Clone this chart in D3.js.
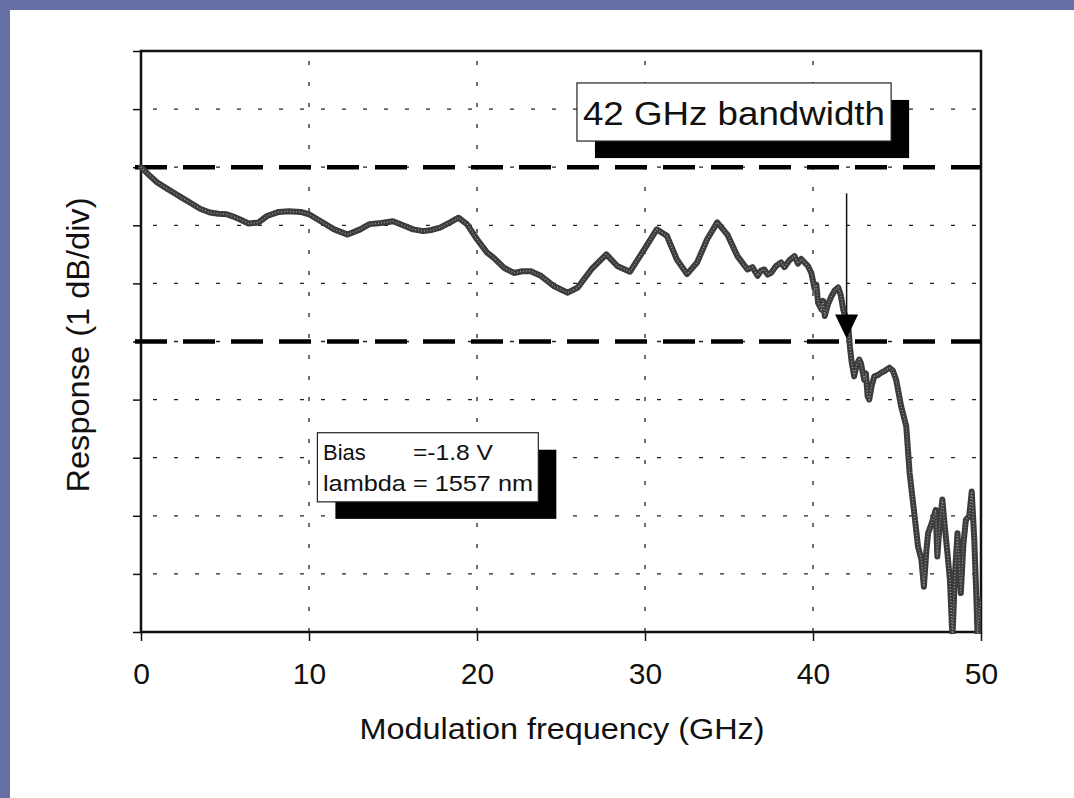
<!DOCTYPE html>
<html lang="en">
<head>
    <meta charset="utf-8">
    <title>Modulation response</title>
    <script type="text/javascript" src="https://d3js.org/d3.v7.min.js"></script>
    <style type="text/css">
        body { margin: 0; overflow: hidden; background: #fff; }
        svg { display: block; }
        text { font-family: "Liberation Sans", Arial, Helvetica, sans-serif; fill: #111; }
    </style>
</head>
<body>
    <script type="text/javascript">
        var freqGHz = [0.0, 0.5, 0.95, 1.5, 1.95, 2.4, 2.75, 3.2, 3.55, 4.1, 4.6, 5.1, 5.5, 5.9, 6.4, 7.0, 7.5, 8.2, 8.8, 9.5,
            10.0, 10.7, 11.5, 12.3, 13.05, 13.6, 14.3, 15.0, 15.6, 16.2, 16.8, 17.3, 17.8, 18.4, 18.9, 19.4,
            20.0, 20.6, 21.0, 21.6, 22.2, 22.7, 23.2, 23.8, 24.6, 25.4, 26.0, 26.8, 27.7, 28.35, 29.1, 29.9,
            30.7, 31.3, 31.9, 32.5, 33.1, 33.7, 34.3, 34.9, 35.5, 36.1, 36.4, 36.7, 36.9, 37.1, 37.3, 37.5,
            37.8, 38.1, 38.3, 38.6, 38.9, 39.1, 39.3, 39.5, 39.7, 39.9, 40.1, 40.2, 40.3, 40.5, 40.6, 40.7, 40.9, 41.1,
            41.3, 41.5, 41.65, 41.8, 42.1, 42.2, 42.3, 42.45, 42.6, 42.75, 42.85, 43.05, 43.15, 43.25, 43.35, 43.5, 43.65,
            43.85, 44.05, 44.3, 44.55, 44.75, 44.95, 45.25, 45.55, 45.75, 46.05, 46.25, 46.45, 46.6, 46.75,
            46.85, 47.1, 47.3, 47.4, 47.55, 47.7, 47.85, 48.0, 48.15, 48.3, 48.45, 48.6, 48.8, 48.95, 49.1,
            49.3, 49.45, 49.6, 49.7, 49.8, 49.9, 50.0];
        var responseDb = [0.00, -0.14, -0.26, -0.36, -0.44, -0.52, -0.58, -0.66, -0.72, -0.78, -0.80, -0.81, -0.85, -0.90, -0.97, -0.95, -0.84, -0.77, -0.76, -0.77,
            -0.81, -0.93, -1.07, -1.16, -1.07, -0.98, -0.96, -0.93, -1.00, -1.07, -1.10, -1.08, -1.04, -0.95, -0.87, -0.98,
            -1.24, -1.47, -1.56, -1.73, -1.82, -1.79, -1.79, -1.87, -2.05, -2.16, -2.07, -1.76, -1.50, -1.70, -1.80, -1.44,
            -1.07, -1.18, -1.59, -1.84, -1.64, -1.24, -0.95, -1.16, -1.53, -1.76, -1.72, -1.87, -1.78, -1.76, -1.85, -1.82,
            -1.70, -1.64, -1.72, -1.60, -1.53, -1.66, -1.58, -1.64, -1.70, -1.82, -2.10, -2.02, -2.33, -2.45, -2.30, -2.56, -2.35, -2.22,
            -2.12, -2.07, -2.20, -2.45, -2.74, -3.10, -3.35, -3.60, -3.40, -3.31, -3.37, -3.66, -3.55, -3.94, -4.00, -3.75, -3.60,
            -3.58, -3.54, -3.50, -3.45, -3.50, -3.66, -4.12, -4.46, -5.26, -6.01, -6.53, -6.75, -7.22, -6.60,
            -6.30, -6.10, -5.90, -6.70, -6.10, -5.72, -6.20, -6.64, -7.10, -8.10, -7.00, -6.30, -7.33, -6.50, -6.07,
            -6.00, -5.58, -6.41, -7.20, -8.10, -7.60, -7.45];

        // Axis ticks (y ticks carry no labels: 1 dB per division)
        var xTicks = [0, 10, 20, 30, 40, 50];
        var yTicks = [-8, -7, -6, -5, -4, -3, -2, -1, 0, 1, 2];
        var refLevels = [0, -3];          // 0 dB and -3 dB dashed lines
        var bandwidthGHz = 42;

        var width = 1074, height = 798;
        var svg = d3.select("body").append("svg")
            .attr("width", width)
            .attr("height", height);

        // Slide frame (blue band at top and left)
        svg.append("rect").attr("width", width).attr("height", height).attr("fill", "#6670a6");
        svg.append("rect").attr("x", 10).attr("y", 10).attr("width", width - 10).attr("height", height - 10).attr("fill", "#fff");

        var x = d3.scaleLinear().domain([0, 50]).range([141, 981]);
        var y = d3.scaleLinear().domain([-8, 2]).range([632, 51]);

        // Dotted grid
        var grid = svg.append("g").attr("stroke", "#222").attr("stroke-width", 1.3).attr("stroke-dasharray", "4,17");
        grid.selectAll(".hg").data(yTicks.filter(function(d) { return d > -8 && d < 2; }))
            .enter().append("line")
            .attr("x1", x(0) + 12).attr("x2", x(50))
            .attr("y1", function(d) { return y(d); }).attr("y2", function(d) { return y(d); });
        grid.selectAll(".vg").data(xTicks.filter(function(d) { return d > 0 && d < 50; }))
            .enter().append("line")
            .attr("y1", y(2) + 10).attr("y2", y(-8))
            .attr("x1", function(d) { return x(d); }).attr("x2", function(d) { return x(d); });

        // Axes: ticks only on y, numbers on x
        var xAxis = svg.append("g").attr("transform", "translate(0," + y(-8) + ")")
            .call(d3.axisBottom(x).tickValues(xTicks).tickSize(9).tickPadding(22).tickFormat(d3.format("d")));
        var yAxis = svg.append("g").attr("transform", "translate(" + x(0) + ",0)")
            .call(d3.axisLeft(y).tickValues(yTicks).tickSize(8).tickFormat(""));
        [xAxis, yAxis].forEach(function(a) {
            a.select(".domain").remove();
            a.selectAll(".tick line").attr("stroke", "#111").attr("stroke-width", 1.5);
        });
        xAxis.selectAll(".tick text").attr("font-size", 30).attr("fill", "#111")
            .style("font-family", "'Liberation Sans', Arial, sans-serif");

        // Plot frame
        svg.append("rect")
            .attr("x", x(0)).attr("y", y(2))
            .attr("width", x(50) - x(0)).attr("height", y(-8) - y(2))
            .attr("fill", "none").attr("stroke", "#111").attr("stroke-width", 2.5);

        // Heavy dashed reference lines
        svg.selectAll(".ref").data(refLevels).enter().append("line")
            .attr("x1", x(0) - 6).attr("x2", x(50))
            .attr("y1", function(d) { return y(d); }).attr("y2", function(d) { return y(d); })
            .attr("stroke", "#000").attr("stroke-width", 4.5)
            .attr("stroke-dasharray", "32,16");

        // Response trace, clipped to the plot box
        svg.append("clipPath").attr("id", "plotclip").append("rect")
            .attr("x", x(0) - 3).attr("y", y(2)).attr("width", x(50) - x(0) + 3).attr("height", y(-8) - y(2) + 2);
        var pts = freqGHz.map(function(f, i) { return [f, responseDb[i]]; });
        var line = d3.line().x(function(d) { return x(d[0]); }).y(function(d) { return y(d[1]); });
        var trace = svg.append("g").attr("clip-path", "url(#plotclip)");
        trace.append("path").datum(pts).attr("d", line)
            .attr("fill", "none").attr("stroke", "#3c3c3c").attr("stroke-width", 6)
            .attr("stroke-linejoin", "round").attr("stroke-linecap", "round");
        trace.append("path").datum(pts).attr("d", line)
            .attr("fill", "none").attr("stroke", "#9a9a9a").attr("stroke-width", 1.3)
            .attr("stroke-dasharray", "1,2");

        // Arrow marking the -3 dB bandwidth
        var ax = x(bandwidthGHz);
        svg.append("line").attr("x1", ax).attr("x2", ax).attr("y1", y(-0.45)).attr("y2", y(-2.7))
            .attr("stroke", "#111").attr("stroke-width", 1.5);
        svg.append("path")
            .attr("d", "M" + (ax - 11.5) + "," + (y(-3) - 27) + "L" + (ax + 11.5) + "," + (y(-3) - 27) + "L" + ax + "," + (y(-3) - 3) + "Z")
            .attr("fill", "#000");

        // Boxed annotations with offset black shadow
        function callout(x0, x1, y0, y1) {
            var bx = x(x0), bw = x(x1) - x(x0), by = y(y0), bh = y(y1) - y(y0);
            svg.append("rect").attr("x", bx + 18).attr("y", by + 17).attr("width", bw).attr("height", bh).attr("fill", "#000");
            svg.append("rect").attr("x", bx).attr("y", by).attr("width", bw).attr("height", bh)
                .attr("fill", "#fff").attr("stroke", "#222").attr("stroke-width", 1.2);
        }
        callout(25.95, 44.65, 1.45, 0.45);
        svg.append("text").attr("x", x(25.95) + 6).attr("y", 125)
            .attr("font-size", 34).attr("textLength", 302).attr("lengthAdjust", "spacingAndGlyphs")
            .text(bandwidthGHz + " GHz bandwidth");

        callout(10.5, 23.65, -4.57, -5.76);
        svg.append("text").attr("x", 323).attr("y", 460).attr("font-size", 22).text("Bias");
        svg.append("text").attr("x", 413).attr("y", 460).attr("font-size", 22)
            .attr("textLength", 80).attr("lengthAdjust", "spacingAndGlyphs").text("=-1.8 V");
        svg.append("text").attr("x", 323).attr("y", 491).attr("font-size", 22)
            .attr("textLength", 210).attr("lengthAdjust", "spacingAndGlyphs").text("lambda = 1557 nm");

        // Axis titles
        svg.append("text").attr("x", 562).attr("y", 739).attr("text-anchor", "middle")
            .attr("font-size", 29).attr("textLength", 405).attr("lengthAdjust", "spacingAndGlyphs")
            .text("Modulation frequency  (GHz)");
        svg.append("text").attr("transform", "translate(89,345) rotate(-90)").attr("text-anchor", "middle")
            .attr("font-size", 31).attr("textLength", 295).attr("lengthAdjust", "spacingAndGlyphs")
            .text("Response (1 dB/div)");
    </script>
</body>
</html>
